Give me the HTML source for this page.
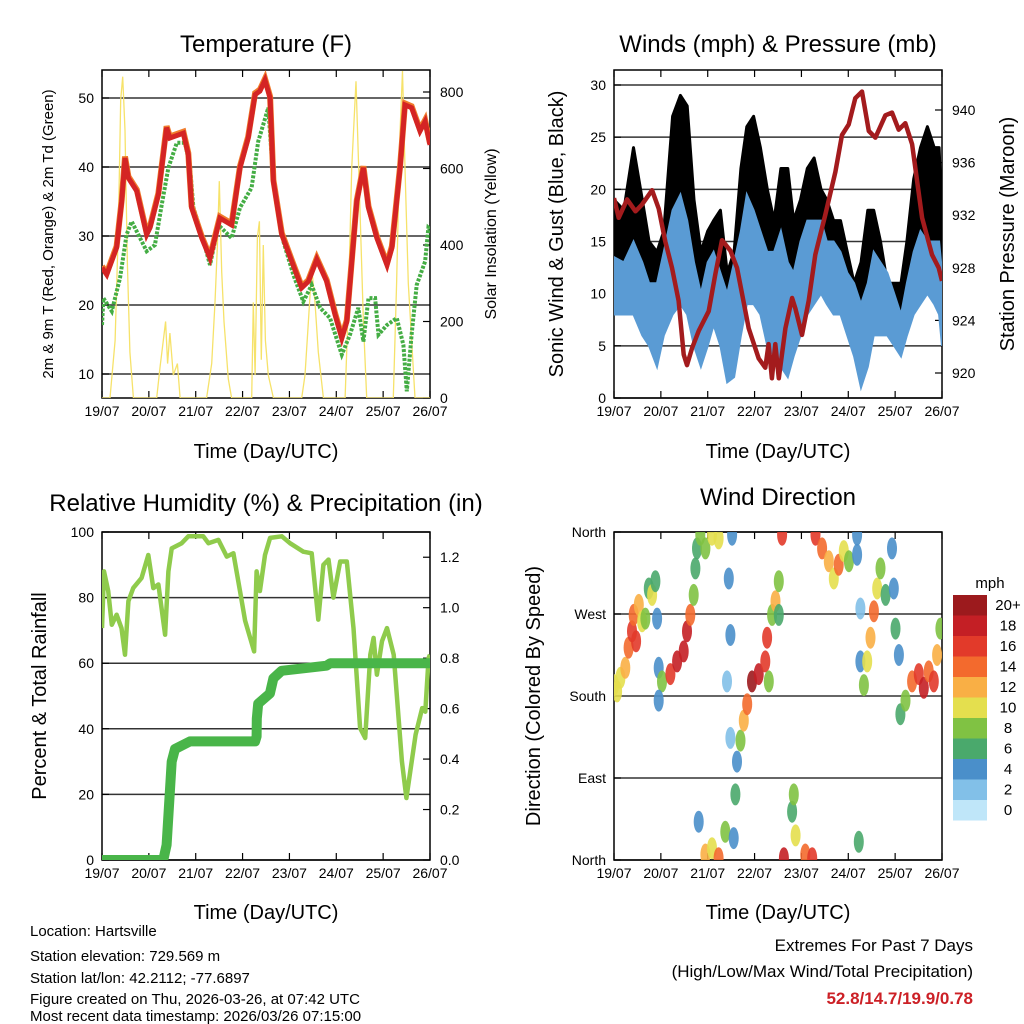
<!DOCTYPE html>
<html><head><meta charset="utf-8">
<style>
html,body{margin:0;padding:0;background:#fff;}
svg{display:block;font-family:"Liberation Sans",sans-serif;}
</style></head>
<body>
<svg id="c" width="1024" height="1024" viewBox="0 0 1024 1024" xmlns="http://www.w3.org/2000/svg">
<rect x="0" y="0" width="1024" height="1024" fill="#fff"/>
<text x="266" y="52" font-size="24" text-anchor="middle">Temperature (F)</text>
<text x="778" y="52" font-size="24" text-anchor="middle">Winds (mph) &amp; Pressure (mb)</text>
<text x="266" y="511" font-size="24" text-anchor="middle">Relative Humidity (%) &amp; Precipitation (in)</text>
<text x="778" y="505" font-size="24" text-anchor="middle">Wind Direction</text>
<text x="266" y="458" font-size="20" text-anchor="middle">Time (Day/UTC)</text>
<text x="778" y="458" font-size="20" text-anchor="middle">Time (Day/UTC)</text>
<text x="266" y="919" font-size="20" text-anchor="middle">Time (Day/UTC)</text>
<text x="778" y="919" font-size="20" text-anchor="middle">Time (Day/UTC)</text>
<text transform="translate(53,234) rotate(-90)" font-size="15" text-anchor="middle">2m &amp; 9m T (Red, Orange) &amp; 2m Td (Green)</text>
<text transform="translate(496,234) rotate(-90)" font-size="16" text-anchor="middle">Solar Insolation (Yellow)</text>
<text transform="translate(563,234) rotate(-90)" font-size="20" text-anchor="middle">Sonic Wind &amp; Gust (Blue, Black)</text>
<text transform="translate(1014,234) rotate(-90)" font-size="20" text-anchor="middle">Station Pressure (Maroon)</text>
<text transform="translate(46,696) rotate(-90)" font-size="20" text-anchor="middle">Percent &amp; Total Rainfall</text>
<text transform="translate(540,696) rotate(-90)" font-size="20" text-anchor="middle">Direction (Colored By Speed)</text>
<g font-size="15">
<text x="30" y="936">Location: Hartsville</text>
<text x="30" y="961">Station elevation: 729.569 m</text>
<text x="30" y="983">Station lat/lon: 42.2112; -77.6897</text>
<text x="30" y="1004">Figure created on Thu, 2026-03-26, at 07:42 UTC</text>
<text x="30" y="1021">Most recent data timestamp: 2026/03/26 07:15:00</text>
</g>
<g font-size="17" text-anchor="end">
<text x="973" y="951">Extremes For Past 7 Days</text>
<text x="973" y="977">(High/Low/Max Wind/Total Precipitation)</text>
<text x="973" y="1004" fill="#cc2026" font-weight="bold">52.8/14.7/19.9/0.78</text>
</g>
<g id="layer"></g>
</svg>
<script>
// ---- data ----
var dayLabels = ["19/07","20/07","21/07","22/07","23/07","24/07","25/07","26/07"];
var tempTicks = [10,20,30,40,50];
var solarTicks = [0,200,400,600,800];
var windTicks = [0,5,10,15,20,25,30];
var presTicks = [920,924,928,932,936,940];
var rhTicks = [0,20,40,60,80,100];
var rainTicks = [0.0,0.2,0.4,0.6,0.8,1.0,1.2];
var dirTicks = [0,90,180,270,360];
var dirLabels = ["North","East","South","West","North"];
var speedBins = ["0","2","4","6","8","10","12","14","16","18","20+"];
var speedColors = ["#bfe6f9","#82c0e8","#4a8fca","#4aa96c","#80c243","#e4df4e","#f9af45","#f36a2d","#e23a2a","#c41f25","#9c1a1d"];

var tHours = [0,2.4,7.5,10.1,11.8,13.5,17.8,22.9,24.6,28.9,33.1,34.8,41.7,44.2,45.9,51.1,55.3,60.4,66.4,70.7,74.9,78.4,80.9,83.5,86.1,87.8,92.1,97.2,102.3,105.7,110,115.1,119.4,122.8,125.4,130.5,133.9,136.5,140.8,146,148.5,152.7,155.2,158.6,162.9,165.5,168];
var tempRed = [25.4,24.4,28.3,35,41.3,38.4,36.5,30.2,31.2,36,45.7,44.2,44.9,41.8,34.1,29.7,26.8,32.6,31.6,39.9,44.2,50.5,51,52.6,50,37.9,30.2,26.3,22.5,23.4,26.6,23.4,18.6,15.2,17.6,35,39.9,34.1,29.7,25.8,28.3,39.9,49,48.6,45.2,46.6,43.2];
var dHours = [0,0.7,5,9.2,12.6,15.2,19.5,22.9,27.1,30.6,34,38.3,42.5,45.1,46.8,51.1,55.3,59.6,66.4,70.7,76.6,80,85.2,87.8,92.9,98,103.1,107.4,111.7,116.8,122.8,127,131.3,133.9,136.5,139.9,141.6,146,151,154.4,156.1,158.6,161.2,165.5,167.2,168];
var dewGreen = [17.1,21,19.1,23.9,30.2,32.1,29.7,27.8,28.7,34.5,39.9,43.5,43.5,39.9,34.1,30.2,25.8,31.6,29.7,34.1,37,43.7,48.6,37.9,29.2,24.4,20.5,22.9,19.6,18.1,12.8,15.7,19.6,14.7,21,21,15.7,17.1,18.1,14.2,7.5,15.7,22.9,26.3,31.2,31];
var sHours = [0,4.1,6.7,8.4,9.6,10.6,11.8,13,14.3,16.1,28,29.7,31.4,32.6,33.6,34.8,36.5,38.6,40,53.6,56.2,57.9,59.1,60.1,61.3,62.5,64.7,66.4,76.7,77.5,78.4,79.6,80.6,81.6,82.6,83.7,85.2,87.8,102.3,104,105.7,107.4,109.1,110.8,113.4,124.5,126.2,127.9,130.1,131.8,133.9,135.6,149.2,150.9,152.7,153.9,155.2,156.9,160.3,168];
var solar = [0,0,150,450,780,840,700,350,120,0,0,80,150,200,90,170,60,90,0,0,90,250,400,567,330,200,50,0,0,250,60,420,462,100,400,150,60,0,0,60,200,340,250,120,0,0,250,600,828,550,200,0,0,300,700,855,600,300,0,0];

var wHours = [0,5,10,14.5,18,22,25.5,30,34,37.5,41,44.5,48,51,54.5,58,61.5,65,68,71.5,75,78.5,82,85.5,89,92,95.5,99,102.5,106,109,112.5,116,119.5,123,126.5,130,133,136.5,140,143.5,147,150,153.5,157,160.5,164,166.5,168];
var windLo = [8,8,8,6,5,3,6,8,9,8,5,3,5,7,5,1.5,2,6,9,9,8,5,4,3,2,4,6,8,9,10,9,8,8,6,4,1,3,6,6,6,5,4,6,8,9,10,9,8,5];
var windHi = [13.5,13,15,13,11,11,14,18,19.5,17,13,10,13,14,12,10,13,16,19.5,18,16,14,14,16,13,12,15,17,17,17,15,15,14,12,11,9,11,14,13,12,10,8,11,14,16,15,15,15,12];
var gustHi = [19,18,24,19,15,14,16,27,29,28,19,14,16,17,18,12,14,22,26,27,24,20,17,22,22,17,19,22,23,20,19,17,17,14,11,13,18,18,15,11,11,11,15,21,24,26,24,24,17];
var pHours = [0,2.4,6.7,11,14.3,19.5,22.9,26.3,29.7,33.1,35.7,37.4,40,43.4,48.5,51.9,55.3,59.6,63,65.6,69,74.1,77.5,79.2,80.9,82.6,84.4,87.8,91.2,92.9,96.3,99.7,103.1,108.2,113.4,116.8,120.2,123.6,127,130.5,133.9,139,142.4,145.8,149.2,152.7,157.8,162.9,166.3,168];
var pressure = [933.3,931.8,933.2,932.3,932.8,933.9,932.5,930,928,925.5,921.4,920.6,921.9,923.2,924.7,927.5,930.1,929.3,928,926,923.4,921.1,920.4,922.2,919.6,922.2,919.6,923.4,925.7,924.9,922.9,925.5,929,932,935.3,938.1,938.9,940.9,941.4,938.4,937.9,939.6,939.8,938.5,939,937.4,931.8,929,928,927];

var rhHours = [0,1,3.2,5,7.5,10,11.8,13.5,16,20.3,23.7,26.3,28.9,32.3,34,35.7,40.8,44.2,51.9,54.5,59.6,63.9,67.3,70.7,73.3,77.9,79.2,80.9,83.5,86.1,92.1,96.3,103.1,107.4,110.8,113.4,116,118.5,122,125.4,128.8,132.2,134.8,137.4,139.1,140.8,143.4,146,149.4,153.6,155.9,160.6,164,165.6,167.3,168];
var rh = [70.7,88,82,71.7,74.8,70.7,62.6,78.9,82.9,86,93,82.9,84,68.7,88,95,96.6,98.7,98.7,96.6,97.6,92.5,93.5,82,73,63.6,88,82,93,98.2,98.7,96.6,94,93.5,73.3,90,91.6,80,91,91,70.7,40.2,37.2,62.6,67.7,56.5,66.7,70.7,62.6,30.1,18.9,38.2,46.3,45.2,61.6,62.6];
var rainHours = [0,31.4,33.1,35.7,37.4,45,78.4,79.2,79.3,80,86,87.8,92,115,117,165,168];
var rain = [0,0,0.06,0.39,0.44,0.47,0.47,0.49,0.56,0.62,0.66,0.72,0.75,0.77,0.78,0.78,0.78];

var dirHours = [0,1.6,3.3,5.8,7.5,9.2,10.1,11.3,12.7,14.4,16.1,17.8,19.5,21.2,22.1,22.9,24.6,22.9,28.9,32.3,35.7,37.4,39.1,40.8,41.7,42.5,44.2,46.8,50.2,53.6,58.8,59.6,57.9,60.5,46.8,50.2,53.6,43.4,57,61.3,62.2,59.6,63,64.8,66.5,68.2,70.7,74.1,77.5,78.4,79.3,81,82.7,84.4,84.4,86.1,87,91.2,92.1,93,98,101.5,103.2,106.6,110,112.6,115.1,117.7,120.3,124.5,124.5,126.2,126.2,125.4,128,129.7,131.4,133.1,134.8,136.5,139.1,142.4,143.3,144.2,145.9,146.7,149.3,152.7,156.1,158.7,161.2,163.8,165.5,167.2];
var dirDeg = [192,185,200,211,233,251,269,240,280,262,265,298,291,306,265,211,196,175,204,218,229,251,269,291,320,342,357,342,357,353,309,247,196,357,6,13,2,42,31,24,72,134,108,131,153,171,196,204,218,244,196,269,284,306,269,357,2,53,72,27,6,2,357,342,328,309,324,339,328,335,357,276,218,20,192,218,244,273,298,320,291,342,298,254,225,160,175,196,204,189,207,196,225,254];
var dirSpeed = [10,10,9,12,13,15,14,16,12,10,8,6,10,5,4,4,8,3,16,18,18,17,14,8,6,5,8,8,10,10,4,3,2,4,12,10,14,4,8,4,6,2,4,8,12,14,20,18,16,16,8,8,12,7,6,16,18,6,7,9,14,16,16,14,12,10,14,10,7,4,4,2,4,6,8,10,12,14,10,7,6,4,4,6,3,6,8,14,16,18,14,16,12,8];

// ---- helpers ----
var NS = "http://www.w3.org/2000/svg";
var layer = document.getElementById("layer");
function mk(tag, attrs, parent){
  var e = document.createElementNS(NS, tag);
  for (var k in attrs) e.setAttribute(k, attrs[k]);
  (parent || layer).appendChild(e);
  return e;
}
function lin(d0,d1,r0,r1){ return function(v){ return r0 + (v-d0)*(r1-r0)/(d1-d0); }; }

var P1 = {x0:102,x1:430,y0:70,y1:398}, P2 = {x0:614,x1:942,y0:70,y1:398};
var P3 = {x0:102,x1:430,y0:532,y1:860}, P4 = {x0:614,x1:942,y0:532,y1:860};
var x1s = lin(0,168,P1.x0,P1.x1), x2s = lin(0,168,P2.x0,P2.x1);
var yT = lin(10,50,374,98), yS = lin(0,800,398,92);
var yW = lin(0,30,398,85), yP = lin(920,940,373,110);
var yRH = lin(0,100,860,532), yR = lin(0,1.3,860,532);
var yD = lin(0,360,860,532);

function clipRect(id,P){
  var cp = mk("clipPath",{id:id});
  mk("rect",{x:P.x0,y:P.y0,width:P.x1-P.x0,height:P.y1-P.y0},cp);
}
clipRect("c1",P1);clipRect("c2",P2);clipRect("c3",P3);clipRect("c4",P4);

function pathFrom(xs, ys, xf, yf){
  var d="";
  for (var i=0;i<xs.length;i++) d += (i?"L":"M") + xf(xs[i]).toFixed(1)+","+yf(ys[i]).toFixed(1);
  return d;
}
function frame(P, name, xf){
  var g = mk("g",{});
  
  
  for (var i=0;i<dayLabels.length;i++){
    var x = xf(i*24);
    mk("line",{x1:x,y1:P.y1,x2:x,y2:P.y1-7,stroke:"#000","stroke-width":1.2},g);
    mk("line",{x1:x,y1:P.y0,x2:x,y2:P.y0+7,stroke:"#000","stroke-width":1.2},g);
    var t = mk("text",{x:x,y:P.y1+18,"font-size":14,"text-anchor":"middle"},g);
    t.textContent = dayLabels[i];
    
    
  }
  return g;
}
function hgrid(P, ticks, yf, g){
  for (var i=0;i<ticks.length;i++){
    var y = yf(ticks[i]);
    if (y>=P.y0-0.5 && y<=P.y1+0.5) mk("line",{x1:P.x0,y1:y,x2:P.x1,y2:y,stroke:"#333","stroke-width":1.5},g);
  }
}
function leftLabels(P, ticks, yf, g, labels){
  for (var i=0;i<ticks.length;i++){
    var y = yf(ticks[i]);
    if (y<P.y0-1||y>P.y1+1) continue;
    mk("line",{x1:P.x0,y1:y,x2:P.x0+7,y2:y,stroke:"#000","stroke-width":1.2},g);
    var t = mk("text",{x:P.x0-8,y:y+5,"font-size":14,"text-anchor":"end"},g);
    t.textContent = labels ? labels[i] : ticks[i];
    
    
  }
}
function rightLabels(P, ticks, yf, g, fmt){
  for (var i=0;i<ticks.length;i++){
    var y = Math.max(P.y0+6, Math.min(P.y1, yf(ticks[i])));
    mk("line",{x1:P.x1,y1:y,x2:P.x1-7,y2:y,stroke:"#000","stroke-width":1.2},g);
    var t = mk("text",{x:P.x1+10,y:y+5,"font-size":14},g);
    t.textContent = fmt ? fmt(ticks[i]) : ticks[i];
    
    
  }
}
function box(P,g){ mk("rect",{x:P.x0,y:P.y0,width:P.x1-P.x0,height:P.y1-P.y0,fill:"none",stroke:"#000","stroke-width":1.5},g); }

// ---- panel 1: temperature ----
var g1 = frame(P1,"temperature",x1s);
hgrid(P1,tempTicks,yT,g1);
var sol = mk("path",{d:pathFrom(sHours,solar,x1s,yS),fill:"none",stroke:"#f6e26a","stroke-width":1.3,"clip-path":"url(#c1)"});


var dl = mk("path",{d:pathFrom(dHours,dewGreen,x1s,yT),fill:"none",stroke:"#44ad44","stroke-width":4,"stroke-dasharray":"3 1.5","clip-path":"url(#c1)"});


var ol = mk("path",{d:pathFrom(tHours,tempRed,x1s,function(v){return yT(v)-1.5;}),fill:"none",stroke:"#f07c2c","stroke-width":6,"clip-path":"url(#c1)"});


var rl = mk("path",{d:pathFrom(tHours,tempRed,x1s,yT),fill:"none",stroke:"#d42424","stroke-width":5,"clip-path":"url(#c1)"});


leftLabels(P1,tempTicks,yT,g1);
rightLabels(P1,solarTicks,yS,g1);
box(P1,g1);

// ---- panel 2: winds ----
var g2 = frame(P2,"winds",x2s);
var gd = "";
for (var i=0;i<wHours.length;i++) gd += (i?"L":"M")+x2s(wHours[i]).toFixed(1)+","+yW(gustHi[i]).toFixed(1);
for (var i=wHours.length-1;i>=0;i--) gd += "L"+x2s(wHours[i]).toFixed(1)+","+yW(windLo[i]+2).toFixed(1);
var gb = mk("path",{d:gd+"Z",fill:"#000",stroke:"#000","stroke-width":3,"stroke-linejoin":"round","clip-path":"url(#c2)"});


var bd = "";
for (var i=0;i<wHours.length;i++) bd += (i?"L":"M")+x2s(wHours[i]).toFixed(1)+","+yW(windHi[i]).toFixed(1);
for (var i=wHours.length-1;i>=0;i--) bd += "L"+x2s(wHours[i]).toFixed(1)+","+yW(windLo[i]).toFixed(1);
var bb = mk("path",{d:bd+"Z",fill:"#5a9bd4",stroke:"#5a9bd4","stroke-width":2,"clip-path":"url(#c2)"});


hgrid(P2,windTicks,yW,g2);
var pl = mk("path",{d:pathFrom(pHours,pressure,x2s,yP),fill:"none",stroke:"#a31b1d","stroke-width":4.5,"stroke-linejoin":"round","clip-path":"url(#c2)"});


leftLabels(P2,windTicks,yW,g2);
rightLabels(P2,presTicks,yP,g2);
box(P2,g2);

// ---- panel 3: humidity ----
var g3 = frame(P3,"humidity",x1s);
hgrid(P3,rhTicks,yRH,g3);
var rhl = mk("path",{d:pathFrom(rhHours,rh,x1s,yRH),fill:"none",stroke:"#8fcb4c","stroke-width":4.5,"stroke-linejoin":"round","clip-path":"url(#c3)"});


var rnl = mk("path",{d:pathFrom(rainHours,rain,x1s,yR),fill:"none",stroke:"#49b549","stroke-width":10,"stroke-linejoin":"round","stroke-linecap":"round","clip-path":"url(#c3)"});


leftLabels(P3,rhTicks,yRH,g3);
rightLabels(P3,rainTicks,yR,g3,function(v){return v.toFixed(1);});
box(P3,g3);

// ---- panel 4: wind direction ----
var g4 = frame(P4,"direction",x2s);
hgrid(P4,dirTicks,yD,g4);
for (var i=0;i<dirHours.length;i++){
  var ci = Math.min(10, Math.max(0, Math.round(dirSpeed[i]/2)));
  var cx = x2s(dirHours[i]), cy = yD(dirDeg[i]);
  var c = mk("ellipse",{cx:cx.toFixed(1),cy:cy.toFixed(1),rx:5,ry:11,fill:speedColors[ci],"fill-opacity":0.9,"clip-path":"url(#c4)"});
  
  
}
leftLabels(P4,dirTicks,yD,g4,dirLabels);
box(P4,g4);

// colorbar
var cb = mk("g",{});


var mt = mk("text",{x:990,y:588,"font-size":15,"text-anchor":"middle"},cb);
mt.textContent = "mph";
for (var i=0;i<speedBins.length;i++){
  var k = speedBins.length-1-i;
  var y = 595 + i*20.5;
  var r = mk("rect",{x:953,y:y,width:34,height:20.5,fill:speedColors[k]},cb);
  
  
  var t = mk("text",{x:1008,y:y+15,"font-size":15,"text-anchor":"middle"},cb);
  t.textContent = speedBins[k];
  
  
}
</script>
</body></html>
